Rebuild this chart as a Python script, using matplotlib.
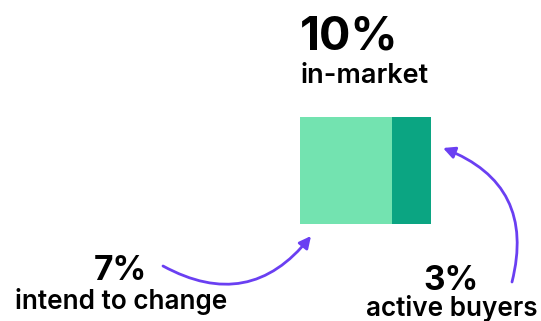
import matplotlib
matplotlib.use("Agg")
import matplotlib.pyplot as plt
from matplotlib.patches import FancyArrowPatch

# Data
segments = ["intend to change", "active buyers"]
values = [7, 3]
total_label = "in-market"
colors = ["#73E3B0", "#0BA582"]
arrow_color = "#6A3FF2"

W, H, DPI = 541, 321, 100
fig = plt.figure(figsize=(W / DPI, H / DPI), dpi=DPI)
fig.patch.set_facecolor("white")

FONT = ["Inter", "DejaVu Sans"]

# Bar axes
bx0, bx1, by0, by1 = 300, 431, 117, 224
axb = fig.add_axes([bx0 / W, 1 - by1 / H, (bx1 - bx0) / W, (by1 - by0) / H])
left = 0
for v, c in zip(values, colors):
    axb.barh(0, v, left=left, height=1.0, color=c, edgecolor="none")
    left += v
axb.set_xlim(0, sum(values))
axb.set_ylim(-0.5, 0.5)
axb.axis("off")

# Overlay axes in pixel coords
ax = fig.add_axes([0, 0, 1, 1], zorder=5)
ax.set_xlim(0, W)
ax.set_ylim(H, 0)
ax.axis("off")
ax.patch.set_alpha(0)

total = sum(values)
ax.text(300, 50, f"{total}%", fontsize=33.5, fontweight="bold", family=FONT,
        ha="left", va="baseline", color="black")
ax.text(300, 83, total_label, fontsize=19.5, fontweight="semibold", family=FONT,
        ha="left", va="baseline", color="black")

ax.text(120, 280, f"{values[0]}%", fontsize=24, fontweight="bold", family=FONT,
        ha="center", va="baseline", color="black")
ax.text(121, 309, segments[0], fontsize=18.8, fontweight="semibold", family=FONT,
        ha="center", va="baseline", color="black")

ax.text(451, 290, f"{values[1]}%", fontsize=24, fontweight="bold", family=FONT,
        ha="center", va="baseline", color="black")
ax.text(452, 316.5, segments[1], fontsize=18.8, fontweight="semibold", family=FONT,
        ha="center", va="baseline", color="black")

a1 = FancyArrowPatch((163, 266), (311, 236), connectionstyle="arc3,rad=0.42",
                     arrowstyle="-|>,head_length=7,head_width=3.5",
                     color=arrow_color, lw=2, shrinkA=0, shrinkB=0)
a2 = FancyArrowPatch((512, 282), (443, 148), connectionstyle="arc3,rad=0.44",
                     arrowstyle="-|>,head_length=7,head_width=3.5",
                     color=arrow_color, lw=2, shrinkA=0, shrinkB=0)
ax.add_patch(a1)
ax.add_patch(a2)

fig.savefig("out.png", dpi=DPI, facecolor="white")
